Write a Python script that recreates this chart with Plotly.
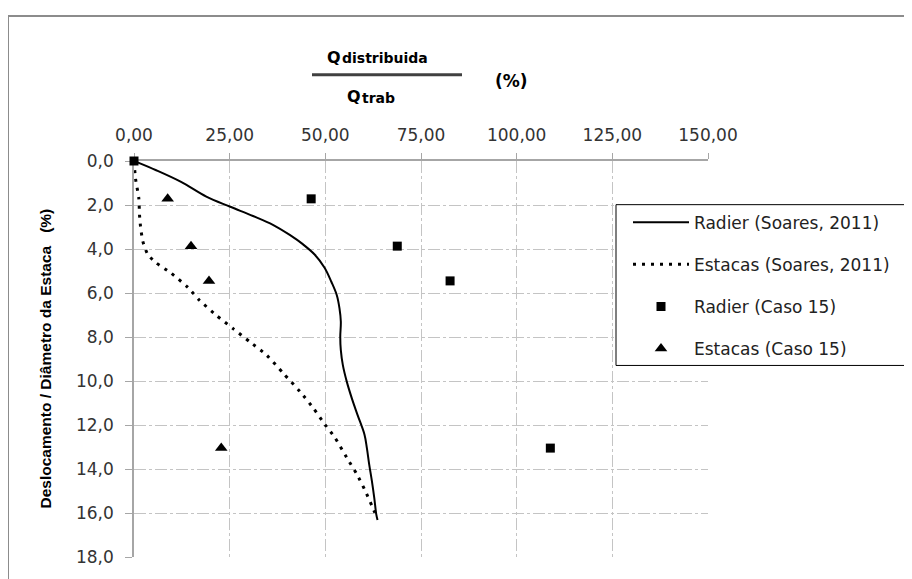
import plotly.graph_objects as go

# ---------------- data ----------------
radier_soares_x = [0, 5.8, 12.3, 18.9, 25.0, 31.1, 36.3, 40.7, 44.1, 47.2, 49.8, 51.6, 53.0,
                   53.7, 54.05, 53.9, 54.05, 54.58, 55.62, 56.93, 58.41, 60.24, 60.85, 61.46,
                   62.16, 62.77, 63.30, 63.64]
radier_soares_y = [0, 0.42, 0.95, 1.62, 2.07, 2.50, 2.90, 3.36, 3.78, 4.25, 4.85, 5.5, 6.1,
                   6.7, 7.3, 8.0, 8.6, 9.28, 10.04, 10.79, 11.54, 12.44, 13.04, 13.79,
                   14.54, 15.29, 16.05, 16.32]

estacas_soares_x = [0, 0.4, 1.26, 1.44, 1.7, 2.3, 3.6, 5.8, 9.7, 14.1, 17.1, 21.62, 25.98,
                    30.34, 34.70, 39.06, 43.42, 46.90, 49.96, 52.57, 55.62, 58.24, 60.42, 62.16, 63.47]
estacas_soares_y = [0, 0.8, 1.7, 2.45, 2.97, 3.65, 4.25, 4.63, 5.1, 5.75, 6.33, 7.03, 7.63,
                    8.23, 8.83, 9.66, 10.49, 11.24, 11.99, 12.59, 13.49, 14.24, 14.99, 15.67, 16.20]

caso15_y = [0, 1.72, 3.87, 5.45, 13.05]
radier_caso15_x = [0, 46.3, 68.8, 82.6, 108.8]
estacas_caso15_y = [1.72, 3.87, 5.45, 13.05]
estacas_caso15_x = [8.8, 14.9, 19.6, 22.8]

x_ticks = [0, 25, 50, 75, 100, 125, 150]
y_ticks = [0, 2, 4, 6, 8, 10, 12, 14, 16, 18]

series_names = ["Radier (Soares, 2011)", "Estacas (Soares, 2011)",
                "Radier (Caso 15)", "Estacas (Caso 15)"]

# ---------------- layout geometry ----------------
# page body has an 8px margin, so the figure is drawn 8px right / down
W, H = 904, 571
L, T, PW, PH = 126, 153, 574, 399
R, B = W - L - PW, H - T - PH


def px(x):  # screen pixel -> paper x
    return (x - 8 - L) / PW


def py(y):  # screen pixel -> paper y
    return (H - B - (y - 8)) / PH


TICK_FONT = dict(family="DejaVu Sans", size=17, color="#333333")
AXIS_COL = "#a6a6a6"
GRID_COL = "#c4c4c4"

fig = go.Figure()
fig.add_trace(go.Scatter(x=radier_soares_x, y=radier_soares_y, mode="lines",
                         name=series_names[0], legendgroup="a",
                         line=dict(color="black", width=2, shape="spline", smoothing=1.0)))
fig.add_trace(go.Scatter(x=estacas_soares_x, y=estacas_soares_y, mode="lines",
                         name=series_names[1], legendgroup="b",
                         line=dict(color="black", width=3, dash="3px,6px", shape="spline", smoothing=0.6)))
fig.add_trace(go.Scatter(x=radier_caso15_x, y=caso15_y, mode="markers",
                         name=series_names[2], legendgroup="c", cliponaxis=False,
                         marker=dict(symbol="square", size=9, color="black")))
fig.add_trace(go.Scatter(x=estacas_caso15_x, y=estacas_caso15_y, mode="markers",
                         name=series_names[3], legendgroup="d", cliponaxis=False,
                         marker=dict(symbol="triangle-up", size=11, color="black")))

fig.update_layout(
    width=W, height=H,
    margin=dict(l=L, r=R, t=T, b=B, pad=0),
    paper_bgcolor="white", plot_bgcolor="white",
    separators=",.",
    showlegend=True,
    legend=dict(x=px(628), y=py(205), xanchor="left", yanchor="top",
                bgcolor="rgba(0,0,0,0)", borderwidth=0,
                font=dict(family="DejaVu Sans", size=17, color="#222222"),
                tracegroupgap=17, itemwidth=56, traceorder="grouped"),
    xaxis=dict(range=[0, 150], side="top", tickvals=x_ticks, tickformat=".2f",
               showline=True, linecolor=AXIS_COL, linewidth=1.5,
               ticks="outside", ticklen=6, tickcolor=AXIS_COL,
               showgrid=True, gridcolor=GRID_COL, gridwidth=1, griddash="12px,3px,3px,3px",
               zeroline=False, tickfont=TICK_FONT, ticklabelstandoff=5, layer="below traces"),
    yaxis=dict(range=[18, 0], tickvals=y_ticks, tickformat=".1f",
               showline=True, linecolor=AXIS_COL, linewidth=1.5,
               ticks="outside", ticklen=7, tickcolor=AXIS_COL,
               showgrid=True, gridcolor=GRID_COL, gridwidth=1, griddash="12px,3px,3px,3px",
               zeroline=False, tickfont=TICK_FONT, ticklabelstandoff=8, layer="below traces"),
    shapes=[
        # outer chart frame
        dict(type="rect", xref="paper", yref="paper", x0=px(8), x1=px(960), y0=py(620), y1=py(15),
             line=dict(color="#8c8c8c", width=2), fillcolor="rgba(0,0,0,0)", layer="above"),
        # legend box
        dict(type="rect", xref="paper", yref="paper", x0=px(616), x1=px(960), y0=py(367), y1=py(205),
             line=dict(color="black", width=1), fillcolor="white", layer="above"),
        # fraction bar of axis title
        dict(type="line", xref="paper", yref="paper", x0=px(312), x1=px(462), y0=py(74), y1=py(74),
             line=dict(color="#404040", width=3), layer="above"),
    ],
    annotations=[
        dict(xref="paper", yref="paper", x=px(325), y=py(56.5), xanchor="left", yanchor="middle",
             showarrow=False, text="<b>Q</b>",
             font=dict(family="DejaVu Sans", size=16, color="black")),
        dict(xref="paper", yref="paper", x=px(340), y=py(57.5), xanchor="left", yanchor="middle",
             showarrow=False, text="<b>distribuida</b>",
             font=dict(family="DejaVu Sans", size=14, color="black")),
        dict(xref="paper", yref="paper", x=px(345), y=py(96), xanchor="left", yanchor="middle",
             showarrow=False, text="<b>Q</b>",
             font=dict(family="DejaVu Sans", size=16, color="black")),
        dict(xref="paper", yref="paper", x=px(360), y=py(97.5), xanchor="left", yanchor="middle",
             showarrow=False, text="<b>trab</b>",
             font=dict(family="DejaVu Sans", size=14, color="black")),
        dict(xref="paper", yref="paper", x=px(511), y=py(80), xanchor="center", yanchor="middle",
             showarrow=False, text="<b>(%)</b>",
             font=dict(family="DejaVu Sans", size=17, color="black")),
        dict(xref="paper", yref="paper", x=px(46), y=py(360), xanchor="center", yanchor="middle",
             showarrow=False, textangle=-90,
             text="<b>Deslocamento / Diâmetro da Estaca\u00a0\u00a0\u00a0(%)</b>",
             font=dict(family="Liberation Sans", size=15.5, color="black")),
    ],
)

fig.write_html("out.html")
